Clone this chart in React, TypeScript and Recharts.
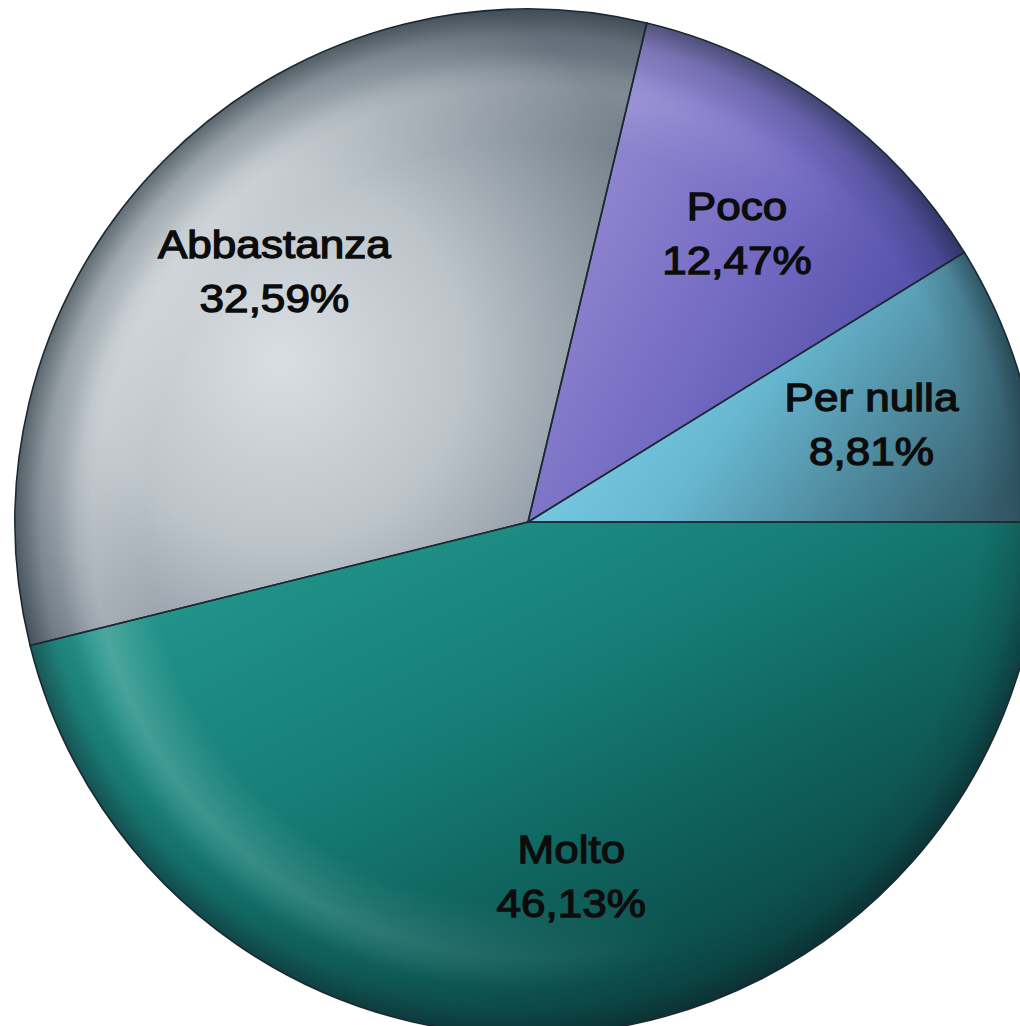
import { Cell, Pie, PieChart } from "recharts";

const categories = ["Per nulla", "Poco", "Abbastanza", "Molto"];
const shares = [8.81, 12.47, 32.59, 46.13];
const gradientIds = ["g-pernulla", "g-poco", "g-abbastanza", "g-molto"];

const data = categories.map((name, i) => ({ name, value: shares[i] }));
const rimData = [{ name: "rim", value: 1 }];

const CX = 528;
const CY = 522;
const R = 513;
const RADIAN = Math.PI / 180;

const fmt = (v: number) => `${v.toFixed(2).replace(".", ",")}%`;

function SliceLabel(props: any) {
	const { cx, cy, midAngle, outerRadius, name, value } = props;
	const r = outerRadius * 0.696;
	const x = cx + r * Math.cos(-midAngle * RADIAN);
	const y = cy + r * Math.sin(-midAngle * RADIAN);
	const textStyle = {
		fontFamily: '"Liberation Sans", Arial, sans-serif',
		fontSize: 39,
		fill: "#0c0c0c",
		stroke: "#0c0c0c",
		strokeWidth: 1.3,
	};
	return (
		<g>
			<text transform={`translate(${x},${y - 13}) scale(1.13,1)`} textAnchor="middle" style={textStyle}>
				{name}
			</text>
			<text transform={`translate(${x},${y + 41}) scale(1.13,1)`} textAnchor="middle" style={textStyle}>
				{fmt(value)}
			</text>
		</g>
	);
}

export default function App() {
	return (
		<div
			style={{
				position: "absolute",
				left: 0,
				top: 0,
				width: 1020,
				height: 1026,
				overflow: "hidden",
				background: "#fff",
			}}
		>
			<PieChart width={1020} height={1026} margin={{ top: 0, right: 0, bottom: 0, left: 0 }}>
				<defs>
					<linearGradient id="g-pernulla" x1="0" y1="0.3" x2="1" y2="0.7">
						<stop offset="0" stopColor="#84d6ee" />
						<stop offset="0.45" stopColor="#68b8d2" />
						<stop offset="1" stopColor="#375f6e" />
					</linearGradient>
					<linearGradient id="g-poco" x1="0" y1="0.2" x2="1" y2="0.8">
						<stop offset="0" stopColor="#9d92d6" />
						<stop offset="0.5" stopColor="#736ac2" />
						<stop offset="1" stopColor="#42419c" />
					</linearGradient>
					<radialGradient id="g-abbastanza" cx="0.42" cy="0.55" r="0.65">
						<stop offset="0" stopColor="#d9dee2" />
						<stop offset="0.45" stopColor="#bcc4ca" />
						<stop offset="1" stopColor="#717d88" />
					</radialGradient>
					<linearGradient id="g-molto" x1="0" y1="0" x2="1" y2="1">
						<stop offset="0" stopColor="#28a095" />
						<stop offset="0.4" stopColor="#167e77" />
						<stop offset="1" stopColor="#042c2c" />
					</linearGradient>
					<radialGradient id="g-rim-dark" gradientUnits="userSpaceOnUse" cx={CX} cy={CY} r={R}>
						<stop offset="0" stopColor="#0e1c24" stopOpacity={0} />
						<stop offset="0.88" stopColor="#0e1c24" stopOpacity={0} />
						<stop offset="0.95" stopColor="#0e1c24" stopOpacity={0.16} />
						<stop offset="1" stopColor="#0e1c24" stopOpacity={0.5} />
					</radialGradient>
					<radialGradient id="g-rim-light" gradientUnits="userSpaceOnUse" cx={CX} cy={CY} r={R}>
						<stop offset="0" stopColor="#ffffff" stopOpacity={0} />
						<stop offset="0.74" stopColor="#ffffff" stopOpacity={0} />
						<stop offset="0.85" stopColor="#ffffff" stopOpacity={0.22} />
						<stop offset="0.92" stopColor="#ffffff" stopOpacity={0} />
						<stop offset="1" stopColor="#ffffff" stopOpacity={0} />
					</radialGradient>
					<linearGradient id="g-mask-fade" gradientUnits="userSpaceOnUse" x1="0" y1="420" x2="760" y2="620">
						<stop offset="0" stopColor="#ffffff" />
						<stop offset="0.45" stopColor="#ffffff" stopOpacity={0.7} />
						<stop offset="1" stopColor="#000000" />
					</linearGradient>
					<mask id="m-rim-light" maskUnits="userSpaceOnUse" x="0" y="0" width="1020" height="1026">
						<rect x="0" y="0" width="1020" height="1026" fill="url(#g-mask-fade)" />
					</mask>
				</defs>
				<Pie
					data={data}
					dataKey="value"
					nameKey="name"
					cx={CX}
					cy={CY}
					outerRadius={R}
					startAngle={0}
					endAngle={360}
					stroke="none"
					isAnimationActive={false}
				>
					{data.map((d, i) => (
						<Cell key={d.name} fill={`url(#${gradientIds[i]})`} />
					))}
				</Pie>
				<Pie
					data={rimData}
					dataKey="value"
					cx={CX}
					cy={CY}
					outerRadius={R}
					stroke="none"
					isAnimationActive={false}
				>
					<Cell fill="url(#g-rim-light)" mask="url(#m-rim-light)" />
				</Pie>
				<Pie
					data={rimData}
					dataKey="value"
					cx={CX}
					cy={CY}
					outerRadius={R}
					fill="url(#g-rim-dark)"
					stroke="none"
					isAnimationActive={false}
				/>
				<Pie
					data={data}
					dataKey="value"
					nameKey="name"
					cx={CX}
					cy={CY}
					outerRadius={R}
					startAngle={0}
					endAngle={360}
					fill="none"
					stroke="#1b2a32"
					strokeWidth={1.6}
					label={SliceLabel}
					labelLine={false}
					isAnimationActive={false}
				/>
			</PieChart>
		</div>
	);
}
